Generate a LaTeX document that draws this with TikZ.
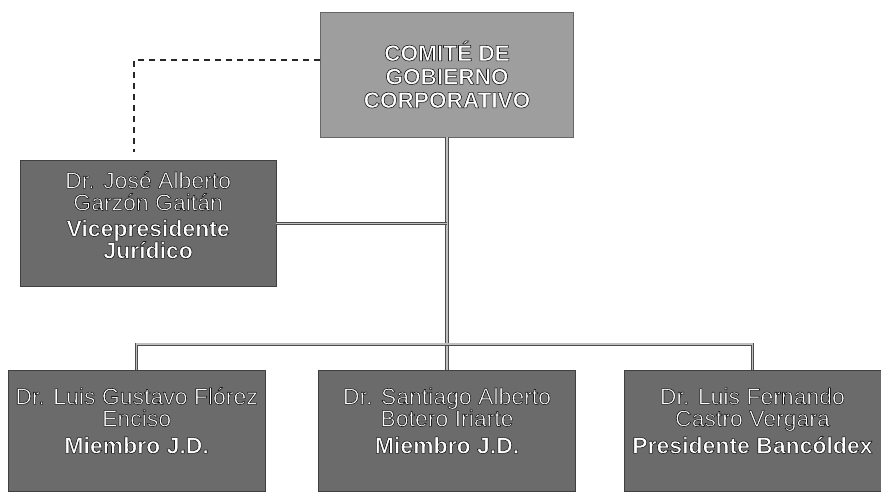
\documentclass[tikz,border=0pt]{standalone}
\usepackage{fontspec}
\setmainfont{Liberation Sans}
\usetikzlibrary{positioning}
\tikzstyle{comitebox} = [rectangle, draw=black!60, fill=black!38, text=white,
    font=\bfseries\fontsize{22.6}{23.5}\selectfont, minimum width=253pt,
    minimum height=125pt, align=center, inner sep=2pt]
\tikzstyle{darkbox} = [rectangle, draw=black!75, fill=black!58, text=white,
    font=\fontsize{23}{22}\selectfont, align=center, inner sep=2pt]
\tikzstyle{member} = [darkbox, minimum width=257pt, text height=81pt, text depth=36pt]
\tikzstyle{vp} = [darkbox, minimum width=256pt, text height=96pt, text depth=26pt]
\tikzstyle{link} = [draw=black!70, line width=0.9pt, double=black!25, double distance=1.6pt]
\tikzstyle{liaison} = [draw=black!85, line width=1.5pt, dash pattern=on 6pt off 5pt]
% white letters with a dark edge
\newcommand{\wt}[1]{\special{pdf:literal direct 2 Tr 0.6 w 1 j 0.1 0.1 0.1 RG}#1}

\begin{document}
\begin{tikzpicture}[x=1pt, y=1pt]
    \useasboundingbox (0,0) rectangle (881,-491);
    % Place nodes
    \node [comitebox] at (447,-74.5) (comite) {\wt{COMITÉ DE}\\ \wt{GOBIERNO}\\ \wt{CORPORATIVO}};
    \node [vp, below left=23pt and 44pt of comite] (jose) {\wt{Dr. José Alberto}\\ \wt{Garzón Gaitán}\\[4pt] \wt{\textbf{Vicepresidente}}\\ \wt{\textbf{Jurídico}}};
    \node [member, below=233pt of comite] (miembro2) {\wt{Dr. Santiago Alberto}\\ \wt{Botero Iriarte}\\[5pt] \wt{\textbf{Miembro J.D.}}};
    \node [member, left=53pt of miembro2] (miembro1) {\wt{Dr. Luis Gustavo Flórez}\\ \wt{Enciso}\\[5pt] \wt{\textbf{Miembro J.D.}}};
    \node [member, right=48pt of miembro2] (presidente) {\wt{Dr. Luis Fernando}\\ \wt{Castro Vergara}\\[5pt] \wt{\textbf{Presidente Bancóldex}}};
    \coordinate [above=26pt of miembro2.north] (bus);

    % Draw edges
    \draw [liaison] ([yshift=14.5pt]comite.west) -| ([xshift=-14pt,yshift=8pt]jose.north);
    \draw [link] (comite.south) -- (miembro2.north);
    \draw [link] (jose) -- (jose -| comite.south);
    \draw [link] (miembro1.north) |- (bus) -| (presidente.north);
\end{tikzpicture}
\end{document}
